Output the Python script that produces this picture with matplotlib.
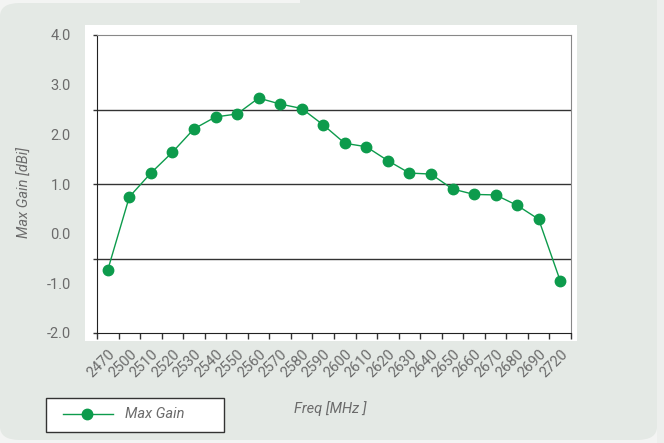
import numpy as np
import matplotlib.pyplot as plt
import matplotlib.patches as patches
from matplotlib.lines import Line2D

W, H = 664, 443

freqs = ["2470", "2500", "2510", "2520", "2530", "2540", "2550", "2560", "2570",
         "2580", "2590", "2600", "2610", "2620", "2630", "2640", "2650", "2660",
         "2670", "2680", "2690", "2720"]
gain = [-0.73, 0.74, 1.22, 1.64, 2.11, 2.35, 2.41, 2.73, 2.61, 2.52, 2.19,
        1.82, 1.75, 1.47, 1.22, 1.20, 0.90, 0.79, 0.78, 0.57, 0.29, -0.95]
y_labels = [-2.0, -1.0, 0.0, 1.0, 2.0, 3.0, 4.0]
grid_vals = [-0.5, 1.0, 2.5]

GREEN = "#0d9b4c"
TXT = "#6b6b6b"
PANEL = "#e4e9e5"

plt.rcParams['font.family'] = ['Roboto', 'DejaVu Sans']


def px(x0, y0, x1, y1):
    # pixel box -> figure fraction [l, b, w, h]
    return [x0 / W, 1 - y1 / H, (x1 - x0) / W, (y1 - y0) / H]


fig = plt.figure(figsize=(W / 100, H / 100), dpi=100, facecolor="#f3f4f3")

# background panel
l, b, w, h = px(0, 3, 657, 440)
fig.patches.append(patches.FancyBboxPatch((l, b), w, h, boxstyle="round,pad=0,rounding_size=0.03",
                                          transform=fig.transFigure, fc=PANEL, ec="none", zorder=-3))
l, b, w, h = px(300, 0, 657, 30)
fig.patches.append(patches.Rectangle((l, b), w, h, transform=fig.transFigure,
                                     fc=PANEL, ec="none", zorder=-3))
l, b, w, h = px(657, 0, 664, 443)
fig.patches.append(patches.Rectangle((l, b), w, h, transform=fig.transFigure,
                                     fc="#edefed", ec="none", zorder=-3))
# white plot box
l, b, w, h = px(85, 25, 577, 341)
fig.patches.append(patches.Rectangle((l, b), w, h, transform=fig.transFigure,
                                     fc="white", ec="none", zorder=-2))

ax = fig.add_axes(px(97, 35, 571, 333))
ax.set_facecolor("white")
ax.xaxis.remove_overlapping_locs = False
ax.yaxis.remove_overlapping_locs = False

x = np.arange(len(freqs)) + 0.5
ax.plot(x, gain, color=GREEN, lw=1, marker="o", ms=7.5, mec=GREEN, mfc=GREEN, zorder=3)

ax.set_xlim(0, len(freqs))
ax.set_ylim(-2, 4)

for g in grid_vals:
    ax.axhline(g, color="#333333", lw=1, zorder=1)

# y ticks: marks at grid, labels every 1.0
ax.set_yticks([-2.0] + grid_vals + [4.0])
ax.set_yticklabels([])
ax.set_yticks(y_labels, minor=True)
ax.set_yticklabels([f"{v:.1f}" for v in y_labels], minor=True)
ax.tick_params(axis="y", which="major", length=3, width=1, color="#333333")
ax.tick_params(axis="y", which="minor", length=0, pad=19, labelsize=10.5, labelcolor=TXT)

# x ticks: marks at category edges, labels at centres
ax.set_xticks(np.arange(len(freqs) + 1))
ax.set_xticklabels([])
ax.set_xticks(x, minor=True)
ax.set_xticklabels(freqs, minor=True, rotation=45, ha="right", va="top", rotation_mode="anchor")
ax.tick_params(axis="x", which="major", length=4, width=1, color="#333333")
ax.tick_params(axis="x", which="minor", length=0, pad=10, labelsize=10.5, labelcolor=TXT)

for s in ["left", "bottom"]:
    ax.spines[s].set_color("#222222")
for s in ["top", "right"]:
    ax.spines[s].set_color("#888888")

fig.text(25 / W, 1 - 192 / H, "Max Gain [dBi]", rotation=90, ha="center", va="center",
         style="italic", color=TXT, fontsize=10.5)
fig.text(330 / W, 1 - 409 / H, "Freq [MHz ]", ha="center", va="center",
         style="italic", color=TXT, fontsize=10.5)

# legend box
l, b, w, h = px(46, 398, 224, 432)
fig.patches.append(patches.Rectangle((l, b), w, h, transform=fig.transFigure,
                                     fc="white", ec="#333333", lw=1, zorder=2))
ly = 1 - 414 / H
fig.lines.append(Line2D([63 / W, 113 / W], [ly, ly], transform=fig.transFigure,
                        color=GREEN, lw=1, zorder=3))
fig.lines.append(Line2D([87 / W], [ly], transform=fig.transFigure, marker="o", ms=7.5,
                        color=GREEN, zorder=3))
fig.text(125 / W, ly, "Max Gain", ha="left", va="center", style="italic",
         color=TXT, fontsize=10.5, zorder=3)

fig.savefig("out.png", dpi=100, facecolor=fig.get_facecolor())
